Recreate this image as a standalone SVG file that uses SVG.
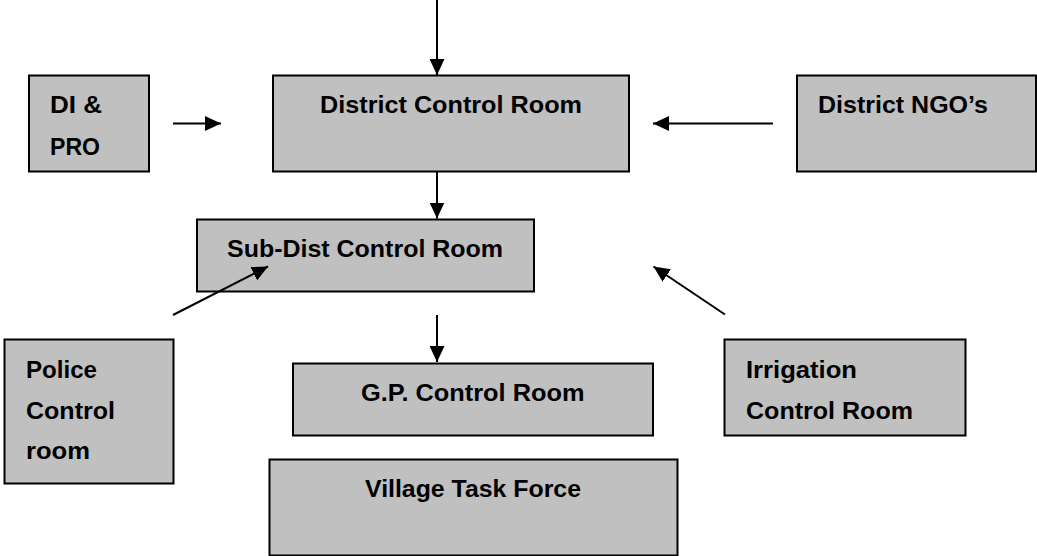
<svg xmlns="http://www.w3.org/2000/svg" width="1037" height="556" viewBox="0 0 1037 556">
<style>
.box{fill:#c0c0c0;stroke:#000;stroke-width:2}
.t{font-family:"Liberation Sans",Arial,sans-serif;font-weight:bold;font-size:23px;fill:#000}
.c{stroke:#000;stroke-width:2;fill:none;marker-end:url(#ah)}
</style>
<defs>
<marker id="ah" markerUnits="userSpaceOnUse" markerWidth="16" markerHeight="15" refX="16" refY="7.5" orient="auto">
<path d="M0,0 L16,7.5 L0,15 z" fill="#000"/>
</marker>
</defs>
<rect width="1037" height="556" fill="#fff"/>
<g id="di-pro">
<rect class="box" x="29" y="75.5" width="120" height="96"/>
<text class="t" x="50" y="113" textLength="52" lengthAdjust="spacingAndGlyphs">DI &amp;</text>
<text class="t" x="50" y="155" textLength="50" lengthAdjust="spacingAndGlyphs">PRO</text>
</g>
<g id="district-control-room">
<rect class="box" x="273" y="75.5" width="356" height="96"/>
<text class="t" x="320" y="113" textLength="262" lengthAdjust="spacingAndGlyphs">District Control Room</text>
</g>
<g id="district-ngos">
<rect class="box" x="797" y="75.5" width="239" height="96"/>
<text class="t" x="818" y="113" textLength="170" lengthAdjust="spacingAndGlyphs">District NGO’s</text>
</g>
<g id="sub-dist-control-room">
<rect class="box" x="197" y="219.5" width="337" height="72"/>
<text class="t" x="227" y="257" textLength="276" lengthAdjust="spacingAndGlyphs">Sub-Dist Control Room</text>
</g>
<g id="police-control-room">
<rect class="box" x="4.5" y="339.5" width="169" height="144"/>
<text class="t" x="26" y="377.5" textLength="71" lengthAdjust="spacingAndGlyphs">Police</text>
<text class="t" x="26" y="418.5" textLength="89" lengthAdjust="spacingAndGlyphs">Control</text>
<text class="t" x="26" y="459" textLength="64" lengthAdjust="spacingAndGlyphs">room</text>
</g>
<g id="gp-control-room">
<rect class="box" x="293" y="363.5" width="360" height="72"/>
<text class="t" x="361" y="401" textLength="223.5" lengthAdjust="spacingAndGlyphs">G.P. Control Room</text>
</g>
<g id="irrigation-control-room">
<rect class="box" x="724.5" y="339.5" width="241" height="96"/>
<text class="t" x="746" y="377.5" textLength="111" lengthAdjust="spacingAndGlyphs">Irrigation</text>
<text class="t" x="746" y="418.5" textLength="167" lengthAdjust="spacingAndGlyphs">Control Room</text>
</g>
<g id="village-task-force">
<rect class="box" x="269.5" y="459.5" width="408" height="96"/>
<text class="t" x="365" y="497" textLength="216" lengthAdjust="spacingAndGlyphs">Village Task Force</text>
</g>
<g id="connectors">
<line class="c" x1="437" y1="0" x2="437" y2="75"/>
<line class="c" x1="173" y1="123.5" x2="221" y2="123.5"/>
<line class="c" x1="773" y1="123.5" x2="653" y2="123.5"/>
<line class="c" x1="437" y1="172" x2="437" y2="218.5"/>
<line class="c" x1="173" y1="315" x2="268" y2="266.5"/>
<line class="c" x1="725" y1="314.5" x2="653.5" y2="266.5"/>
<line class="c" x1="437" y1="315" x2="437" y2="362"/>
</g>
</svg>
